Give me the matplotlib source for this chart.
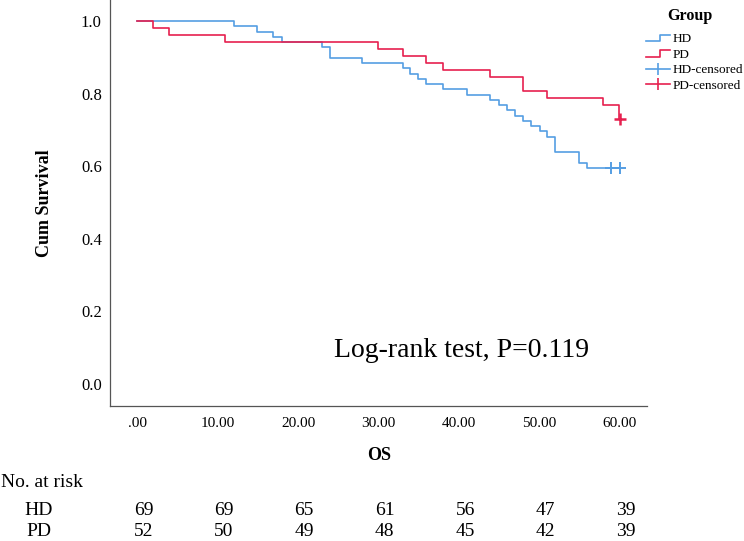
import numpy as np
import matplotlib
matplotlib.use("Agg")
import matplotlib.pyplot as plt
import matplotlib.transforms as mtransforms
from matplotlib.legend_handler import HandlerBase
from matplotlib.lines import Line2D

# Kaplan-Meier steps
hd_t = [0, 12.0, 14.9, 16.9, 18.0, 22.9, 23.9, 27.9, 33.0, 33.9, 34.9, 35.9, 38.0,
        41.0, 43.9, 44.9, 45.9, 47.0, 48.0, 48.9, 50.0, 50.9, 51.9, 54.9, 55.9, 60.0]
hd_s = [1.0, 0.986, 0.971, 0.957, 0.942, 0.928, 0.899, 0.884, 0.870, 0.855, 0.841,
        0.826, 0.812, 0.797, 0.783, 0.768, 0.754, 0.739, 0.725, 0.710, 0.696, 0.681,
        0.638, 0.609, 0.594, 0.594]
hd_cens_t = [58.9, 60.0]
hd_cens_s = [0.594, 0.594]

pd_t = [0, 1.9, 3.9, 10.9, 29.9, 33.0, 35.9, 38.0, 43.9, 48.0, 50.9, 57.9, 59.9, 60.0]
pd_s = [1.0, 0.981, 0.962, 0.942, 0.923, 0.904, 0.885, 0.865, 0.846, 0.808, 0.788,
        0.769, 0.731, 0.731]
pd_cens_t = [60.0]
pd_cens_s = [0.731]

xticks = [0, 10, 20, 30, 40, 50, 60]
xticklabels = [".00", "10.00", "20.00", "30.00", "40.00", "50.00", "60.00"]
yticks = [0.0, 0.2, 0.4, 0.6, 0.8, 1.0]

risk_hd = [69, 69, 65, 61, 56, 47, 39]
risk_pd = [52, 50, 49, 48, 45, 42, 39]

blue = "#559ee3"
red = "#e6204f"

plt.rcParams["font.family"] = ["Liberation Serif", "DejaVu Serif"]


class StepHandler(HandlerBase):
    # legend key drawn like the SPSS step symbol
    def create_artists(self, legend, orig_handle, xdescent, ydescent,
                       width, height, fontsize, trans):
        w, h = width, height
        xs = np.array([0, 0.6 * w, 0.6 * w, w]) - xdescent
        ys = np.array([0.1 * h, 0.1 * h, 0.8 * h, 0.8 * h]) - ydescent
        ln = Line2D(xs, ys, color=orig_handle.get_color(), lw=1.2)
        ln.set_transform(trans)
        return [ln]


fig = plt.figure(figsize=(7.44, 5.41), dpi=100)
ax = fig.add_axes([0.148, 0.25, 0.722, 0.75])

l_hd, = ax.plot(hd_t, hd_s, drawstyle="steps-post", color=blue, lw=1.2)
l_pd, = ax.plot(pd_t, pd_s, drawstyle="steps-post", color=red, lw=1.2)
ax.plot(hd_cens_t, hd_cens_s, ls="none", marker="+", ms=8, mew=1.4, color=blue)
ax.plot(pd_cens_t, pd_cens_s, ls="none", marker="+", ms=9, mew=1.8, color=red)

ax.set_xlim(-3.4, 63.4)
ax.set_ylim(-0.06, 1.058)
ax.set_xticks(xticks)
ax.set_xticklabels(xticklabels)
ax.set_yticks(yticks)
ax.set_yticklabels(["%.1f" % v for v in yticks])
ax.tick_params(length=0)
ax.tick_params(axis="x", pad=8, labelsize=11)
ax.tick_params(axis="y", pad=6, labelsize=12)
for s in ["top", "right"]:
    ax.spines[s].set_visible(False)
for s in ["left", "bottom"]:
    ax.spines[s].set_color("#555555")
    ax.spines[s].set_linewidth(0.9)

ax.set_ylabel("Cum Survival", fontsize=13, fontweight="bold", labelpad=20)
ax.set_xlabel("OS", fontsize=13, fontweight="bold", labelpad=12)

ax.text(0.655, 0.135, "Log-rank test, P=0.119", transform=ax.transAxes,
        fontsize=20, ha="center", va="center")

fig.text(0.927, 0.97, "Group", fontsize=11.5, fontweight="bold", ha="center", va="center")
hd_key = Line2D([], [], color=blue, marker="|", ms=8, mew=1.2, lw=1.2)
pd_key = Line2D([], [], color=red, marker="|", ms=8, mew=1.2, lw=1.2)
leg = fig.legend([l_hd, l_pd, hd_key, pd_key],
                 ["HD", "PD", "HD-censored", "PD-censored"],
                 handler_map={l_hd: StepHandler(), l_pd: StepHandler()},
                 loc="upper left", bbox_to_anchor=(0.868, 0.939), frameon=False,
                 fontsize=9.5, handlelength=1.8, handletextpad=0.2,
                 labelspacing=0.25, borderaxespad=0, borderpad=0)

# number at risk table
tr = mtransforms.blended_transform_factory(ax.transData, fig.transFigure)
tr = tr + mtransforms.ScaledTranslation(6 / 100, 0, fig.dpi_scale_trans)
fig.text(0.002, 0.108, "No. at risk", fontsize=14, va="center")
fig.text(0.052, 0.057, "HD", fontsize=14, ha="center", va="center")
fig.text(0.052, 0.017, "PD", fontsize=14, ha="center", va="center")
for t, a, b in zip(xticks, risk_hd, risk_pd):
    fig.text(t, 0.057, str(a), transform=tr, fontsize=14, ha="center", va="center")
    fig.text(t, 0.017, str(b), transform=tr, fontsize=14, ha="center", va="center")

fig.savefig("out.png", dpi=100)
